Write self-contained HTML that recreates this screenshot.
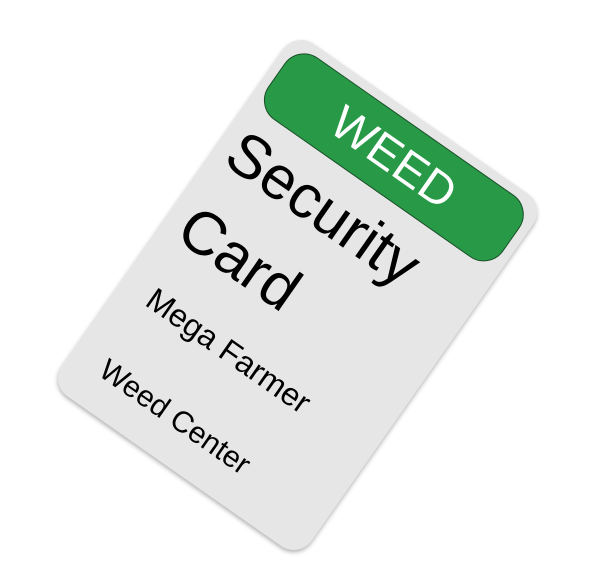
<!DOCTYPE html>
<html>
<head>
<meta charset="utf-8">
<style>
  html,body{margin:0;padding:0;background:#fff;width:600px;height:582px;overflow:hidden;}
  #card{position:absolute;width:305px;height:430px;left:145px;top:80px;
    transform:rotate(35deg);transform-origin:50% 50%;
    background:#e6e6e6;border-radius:22px;
    box-shadow:1px 2px 4px rgba(0,0,0,0.3);
    font-family:"Liberation Sans","DejaVu Sans",sans-serif;}
  #header{position:absolute;left:9px;right:9px;top:9px;height:74px;
    background:#289a47;border:1.5px solid #1a4f28;border-radius:24px;
    color:#fff;font-size:47px;text-align:center;line-height:74px;}
  .t{position:absolute;color:#000;white-space:nowrap;line-height:1;}
</style>
</head>
<body>
<div id="card">
  <div id="header">WEED</div>
  <div class="t" style="left:14px;top:99px;font-size:61px;">Security</div>
  <div class="t" style="left:18px;top:188px;font-size:61px;">Card</div>
  <div class="t" style="left:32px;top:284px;font-size:32px;">Mega Farmer</div>
  <div class="t" style="left:34px;top:371px;font-size:30px;">Weed Center</div>
</div>
</body>
</html>
